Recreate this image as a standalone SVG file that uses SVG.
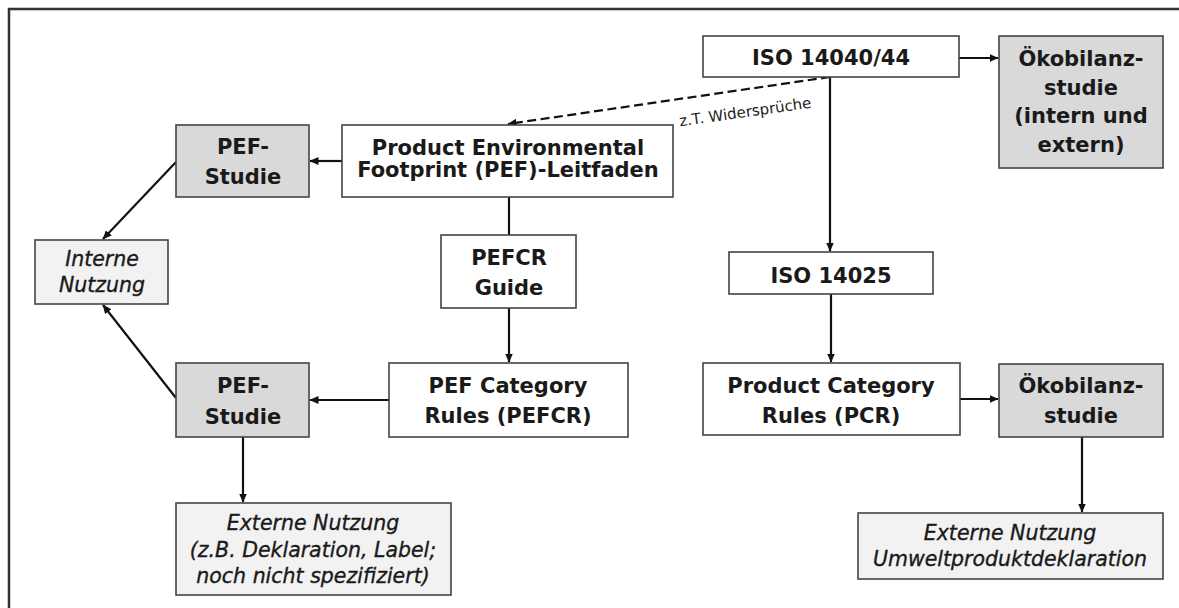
<svg xmlns="http://www.w3.org/2000/svg" width="1179" height="608" viewBox="0 0 1179 608">
<defs>
<marker id="ah" markerUnits="userSpaceOnUse" markerWidth="9" markerHeight="8" refX="8.5" refY="4" orient="auto">
<path d="M0,0 L9,4 L0,8 z" fill="#111"/>
</marker>
<style>
.box{fill:#fff;stroke:#444;stroke-width:1.6}
.dark{fill:#d9d9d9;stroke:#444;stroke-width:1.6}
.light{fill:#f2f2f2;stroke:#444;stroke-width:1.6}
.t{font-family:"DejaVu Sans",sans-serif;font-size:21px;font-weight:bold;fill:#1a1a1a;text-anchor:middle}
.i{font-family:"DejaVu Sans",sans-serif;font-size:20.5px;font-style:italic;fill:#1a1a1a;stroke:#1a1a1a;stroke-width:0.35;text-anchor:middle}
.c{fill:none;stroke:#111;stroke-width:2.2}
.frame{fill:none;stroke:#333;stroke-width:2.5}
</style>
</defs>
<rect width="1179" height="608" fill="#fff"/>
<path class="frame" d="M9,608 L9,9 L1179,9"/>

<g id="connectors">
<path class="c" d="M959,58 L998,58" marker-end="url(#ah)"/>
<path class="c" d="M830,77 L508,124" stroke-dasharray="9,4.5" stroke-width="2.5" marker-end="url(#ah)"/>
<path class="c" d="M830,77 L830,251" marker-end="url(#ah)"/>
<path class="c" d="M342,161 L310,161" marker-end="url(#ah)"/>
<path class="c" d="M509,197 L509,235"/>
<path class="c" d="M509,308 L509,362" marker-end="url(#ah)"/>
<path class="c" d="M389,400 L310,400" marker-end="url(#ah)"/>
<path class="c" d="M176,162 L103,239" marker-end="url(#ah)"/>
<path class="c" d="M176,398 L103,305" marker-end="url(#ah)"/>
<path class="c" d="M243,437 L243,502" marker-end="url(#ah)"/>
<path class="c" d="M831,294 L831,362" marker-end="url(#ah)"/>
<path class="c" d="M960,399 L998,399" marker-end="url(#ah)"/>
<path class="c" d="M1082,437 L1082,512" marker-end="url(#ah)"/>
<text x="746" y="117" transform="rotate(-8 746 117)" font-family="DejaVu Sans, sans-serif" font-size="15" fill="#222" text-anchor="middle">z.T. Widersprüche</text>
</g>

<g id="iso14040">
<rect class="box" x="703" y="36" width="256" height="41"/>
<text class="t" x="831" y="65">ISO 14040/44</text>
</g>
<g id="oeko1">
<rect class="dark" x="999" y="36" width="164" height="132"/>
<text class="t" x="1081" y="66">Ökobilanz-</text>
<text class="t" x="1081" y="95">studie</text>
<text class="t" x="1081" y="123">(intern und</text>
<text class="t" x="1081" y="152">extern)</text>
</g>
<g id="pefleitfaden">
<rect class="box" x="342" y="125" width="331" height="72"/>
<text class="t" x="508" y="155">Product Environmental</text>
<text class="t" x="508" y="177">Footprint (PEF)-Leitfaden</text>
</g>
<g id="pefstudie1">
<rect class="dark" x="176" y="125" width="133" height="72"/>
<text class="t" x="243" y="154">PEF-</text>
<text class="t" x="243" y="184">Studie</text>
</g>
<g id="interne">
<rect class="light" x="35" y="240" width="133" height="64"/>
<text class="i" x="102" y="266">Interne</text>
<text class="i" x="102" y="292">Nutzung</text>
</g>
<g id="pefcrguide">
<rect class="box" x="441" y="235" width="135" height="73"/>
<text class="t" x="509" y="265">PEFCR</text>
<text class="t" x="509" y="295">Guide</text>
</g>
<g id="pefcr">
<rect class="box" x="389" y="363" width="239" height="74"/>
<text class="t" x="508" y="393">PEF Category</text>
<text class="t" x="508" y="423">Rules (PEFCR)</text>
</g>
<g id="pefstudie2">
<rect class="dark" x="176" y="363" width="133" height="74"/>
<text class="t" x="243" y="393">PEF-</text>
<text class="t" x="243" y="424">Studie</text>
</g>
<g id="externe1">
<rect class="light" x="176" y="503" width="275" height="92"/>
<text class="i" x="313" y="530">Externe Nutzung</text>
<text class="i" x="313" y="557">(z.B. Deklaration, Label;</text>
<text class="i" x="313" y="583">noch nicht spezifiziert)</text>
</g>
<g id="iso14025">
<rect class="box" x="729" y="252" width="204" height="42"/>
<text class="t" x="831" y="283">ISO 14025</text>
</g>
<g id="pcr">
<rect class="box" x="703" y="363" width="257" height="72"/>
<text class="t" x="831" y="393">Product Category</text>
<text class="t" x="831" y="423">Rules (PCR)</text>
</g>
<g id="oeko2">
<rect class="dark" x="999" y="364" width="164" height="73"/>
<text class="t" x="1081" y="393">Ökobilanz-</text>
<text class="t" x="1081" y="423">studie</text>
</g>
<g id="externe2">
<rect class="light" x="858" y="513" width="305" height="66"/>
<text class="i" x="1010" y="540">Externe Nutzung</text>
<text class="i" x="1010" y="566">Umweltproduktdeklaration</text>
</g>
</svg>
